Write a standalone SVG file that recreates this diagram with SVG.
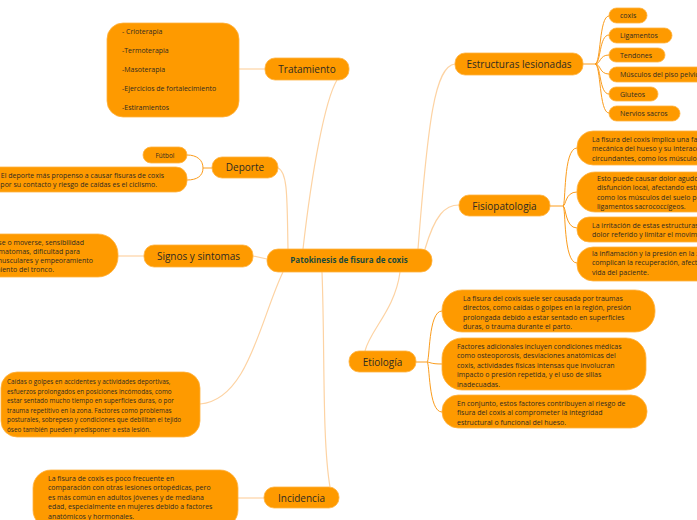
<svg xmlns="http://www.w3.org/2000/svg" width="697" height="520" viewBox="0 0 697 520">
<style>
.n{fill:#fe9a00;stroke:#ffb340;stroke-width:0.8}
.t{font-family:"Open Sans","DejaVu Sans",sans-serif;fill:#2e2a22}
.m{font-size:10px;text-anchor:middle}
.s{font-size:7px}
.xs{font-size:6.4px}
.c{font-size:8px;font-weight:bold;fill:#1b4a3c;text-anchor:middle}
.l1{fill:none;stroke:#fdd3a3;stroke-width:1.2}
.l2{fill:none;stroke:#fb9c1c;stroke-width:1}
</style>
<rect width="697" height="520" fill="#ffffff"/>
<g id="connectors">
<path class="l1" d="M303,249 C312,170 325,100 337,80"/>
<path class="l1" d="M288,249 C287,200 288,172 278,168"/>
<path class="l1" d="M253,256 L267,259"/>
<path class="l1" d="M283,272 C260,320 248,400 200,404"/>
<path class="l1" d="M322,272 C325,350 322,440 330,487"/>
<path class="l1" d="M418,249 C428,120 435,66 455,64"/>
<path class="l1" d="M425,249 C435,215 445,205 459,205"/>
<path class="l1" d="M400,272 C395,310 370,330 365,351"/>
<path class="l1" d="M265,69 H239"/>
<path class="l1" d="M264,498 H238"/>
<path class="l1" d="M144,256 H118"/>
<path class="l2" d="M212,168 H203 C203,160 197,155 187,155"/>
<path class="l2" d="M203,168 C203,176 197,180 187,180"/>
<path class="l2" d="M583,64 H595"/>
<path class="l2" d="M595,64 C601,64 599,16 609,16"/>
<path class="l2" d="M595,64 C601,64 599,35 609,35"/>
<path class="l2" d="M595,64 C601,64 599,55 609,55"/>
<path class="l2" d="M595,64 C601,64 599,74 609,74"/>
<path class="l2" d="M595,64 C601,64 599,94 609,94"/>
<path class="l2" d="M595,64 C601,64 599,113 609,113"/>
<path class="l2" d="M550,206 H563"/>
<path class="l2" d="M563,206 C566,206 563,148 577,148"/>
<path class="l2" d="M563,206 C566,206 565,192 577,192"/>
<path class="l2" d="M563,206 C566,206 565,228 577,228"/>
<path class="l2" d="M563,206 C566,206 563,263 577,263"/>
<path class="l2" d="M416,362 H427"/>
<path class="l2" d="M427,362 C430,362 428,311 442,311"/>
<path class="l2" d="M427,362 C430,362 430,364 442,364"/>
<path class="l2" d="M427,362 C430,362 428,412 442,412"/>
</g>
<g id="center">
<rect class="n" x="267" y="249" width="165" height="23" rx="11"/>
<text class="t c" x="349" y="263">Patokinesis de fisura de coxis</text>
</g>
<g id="tratamiento">
<rect class="n" x="265" y="58" width="84" height="22" rx="10"/>
<text class="t m" x="307" y="72.5">Tratamiento</text>
</g>
<g id="tratamiento-detalle">
<rect class="n" x="107" y="23" width="132" height="94" rx="16"/>
<text class="t s" x="122" y="34">-  Crioterapia</text>
<text class="t s" x="122" y="53">-Termoterapia</text>
<text class="t s" x="122" y="72">-Masoterapia</text>
<text class="t s" x="122" y="91">-Ejercicios de fortalecimiento</text>
<text class="t s" x="122" y="110">-Estiramientos</text>
</g>
<g id="deporte">
<rect class="n" x="212" y="157" width="66" height="21" rx="10"/>
<text class="t m" x="245" y="171">Deporte</text>
</g>
<g id="futbol">
<rect class="n" x="143" y="147" width="44" height="16" rx="8"/>
<text class="t xs" x="165" y="157.5" text-anchor="middle">Fútbol</text>
</g>
<g id="ciclismo">
<rect class="n" x="-20" y="167" width="207" height="25" rx="11"/>
<text class="t s" x="164" y="177.5" text-anchor="end">El deporte más propenso a causar fisuras de coxis</text>
<text class="t s" x="157" y="187" text-anchor="end">por su contacto y riesgo de caídas es el ciclismo.</text>
</g>
<g id="signos">
<rect class="n" x="144" y="245" width="109" height="22" rx="10"/>
<text class="t m" x="198.5" y="259.5">Signos y sintomas</text>
</g>
<g id="signos-detalle">
<rect class="n" x="-40" y="234" width="158" height="43" rx="20"/>
<text class="t s" x="84" y="244.5" text-anchor="end">Dolor al sentarse o moverse, sensibilidad</text>
<text class="t s" x="80" y="253.5" text-anchor="end">local, inflamación, hematomas, dificultad para</text>
<text class="t s" x="93" y="263" text-anchor="end">caminar, espasmos musculares y empeoramiento</text>
<text class="t s" x="54" y="272" text-anchor="end">del dolor con el movimiento del tronco.</text>
</g>
<g id="causas">
<rect class="n" x="1" y="372" width="199" height="65" rx="16"/>
<text class="t xs" x="7" y="384">Caídas o golpes en accidentes y actividades deportivas,</text>
<text class="t xs" x="7" y="393.5">esfuerzos prolongados en posiciones incómodas, como</text>
<text class="t xs" x="7" y="403">estar sentado mucho tiempo en superficies duras, o por</text>
<text class="t xs" x="7" y="412.5">trauma repetitivo en la zona. Factores como problemas</text>
<text class="t xs" x="7" y="422">posturales, sobrepeso y condiciones que debilitan el tejido</text>
<text class="t xs" x="7" y="431.5">óseo también pueden predisponer a esta lesión.</text>
</g>
<g id="incidencia">
<rect class="n" x="264" y="487" width="75" height="21" rx="10"/>
<text class="t m" x="301.5" y="501.5">Incidencia</text>
</g>
<g id="incidencia-detalle">
<rect class="n" x="33" y="470" width="205" height="58" rx="18"/>
<text class="t s" x="48" y="480.5">La fisura de coxis es poco frecuente en</text>
<text class="t s" x="48" y="490">comparación con otras lesiones ortopédicas, pero</text>
<text class="t s" x="48" y="499.5">es más común en adultos jóvenes y de mediana</text>
<text class="t s" x="48" y="509">edad, especialmente en mujeres debido a factores</text>
<text class="t s" x="48" y="518.5">anatómicos y hormonales.</text>
</g>
<g id="estructuras">
<rect class="n" x="455" y="53" width="128" height="22" rx="10"/>
<text class="t m" x="519" y="67.5">Estructuras lesionadas</text>
</g>
<g id="e-coxis"><rect class="n" x="609" y="8" width="38" height="15" rx="7.5"/><text class="t s" x="620" y="18">coxis</text></g>
<g id="e-ligamentos"><rect class="n" x="609" y="28" width="63" height="15" rx="7.5"/><text class="t s" x="620" y="38">Ligamentos</text></g>
<g id="e-tendones"><rect class="n" x="609" y="48" width="56" height="14" rx="7"/><text class="t s" x="620" y="57.5">Tendones</text></g>
<g id="e-musculos"><rect class="n" x="609" y="67" width="100" height="15" rx="7.5"/><text class="t s" x="620" y="77">Músculos del piso pelvico</text></g>
<g id="e-gluteos"><rect class="n" x="609" y="87" width="49" height="14" rx="7"/><text class="t s" x="620" y="96.5">Gluteos</text></g>
<g id="e-nervios"><rect class="n" x="609" y="106" width="71" height="15" rx="7.5"/><text class="t s" x="620" y="116">Nervios sacros</text></g>
<g id="fisiopatologia">
<rect class="n" x="459" y="195" width="91" height="21" rx="10"/>
<text class="t m" x="504.5" y="209.5">Fisiopatologia</text>
</g>
<g id="f1">
<rect class="n" x="577" y="131" width="150" height="34" rx="16"/>
<text class="t s" x="592" y="141.5">La fisura del coxis implica una falla en la</text>
<text class="t s" x="592" y="151">mecánica del hueso y su interacción con</text>
<text class="t s" x="592" y="160.5">circundantes, como los músculos</text>
</g>
<g id="f2">
<rect class="n" x="577" y="172" width="150" height="40" rx="18"/>
<text class="t s" x="597" y="180.5">Esto puede causar dolor agudo y</text>
<text class="t s" x="597" y="190">disfunción local, afectando estructuras</text>
<text class="t s" x="597" y="199.5">como los músculos del suelo pélvico y los</text>
<text class="t s" x="597" y="209">ligamentos sacrococcígeos.</text>
</g>
<g id="f3">
<rect class="n" x="577" y="217" width="150" height="25" rx="12"/>
<text class="t s" x="592" y="228">La irritación de estas estructuras puede</text>
<text class="t s" x="592" y="237">dolor referido y limitar el movimiento.</text>
</g>
<g id="f4">
<rect class="n" x="577" y="247" width="150" height="34" rx="16"/>
<text class="t s" x="592" y="256">la inflamación y la presión en la zona</text>
<text class="t s" x="592" y="265">complican la recuperación, afectando</text>
<text class="t s" x="592" y="275">vida del paciente.</text>
</g>
<g id="etiologia">
<rect class="n" x="349" y="351" width="67" height="21" rx="10"/>
<text class="t m" x="382.5" y="365.5">Etiología</text>
</g>
<g id="et1">
<rect class="n" x="442" y="290" width="213" height="42" rx="20"/>
<text class="t s" x="463" y="300.5">La fisura del coxis suele ser causada por traumas</text>
<text class="t s" x="463" y="310">directos, como caídas o golpes en la región, presión</text>
<text class="t s" x="463" y="319.5">prolongada debido a estar sentado en superficies</text>
<text class="t s" x="463" y="329">duras, o trauma durante el parto.</text>
</g>
<g id="et2">
<rect class="n" x="442" y="338" width="204" height="52" rx="20"/>
<text class="t s" x="457" y="348.5">Factores adicionales incluyen condiciones médicas</text>
<text class="t s" x="457" y="358">como osteoporosis, desviaciones anatómicas del</text>
<text class="t s" x="457" y="367.5">coxis, actividades físicas intensas que involucran</text>
<text class="t s" x="457" y="377">impacto o presión repetida, y el uso de sillas</text>
<text class="t s" x="457" y="386.5">inadecuadas.</text>
</g>
<g id="et3">
<rect class="n" x="442" y="395" width="205" height="33" rx="16"/>
<text class="t s" x="457" y="405.5">En conjunto, estos factores contribuyen al riesgo de</text>
<text class="t s" x="457" y="415">fisura del coxis al comprometer la integridad</text>
<text class="t s" x="457" y="424.5">estructural o funcional del hueso.</text>
</g>
</svg>
